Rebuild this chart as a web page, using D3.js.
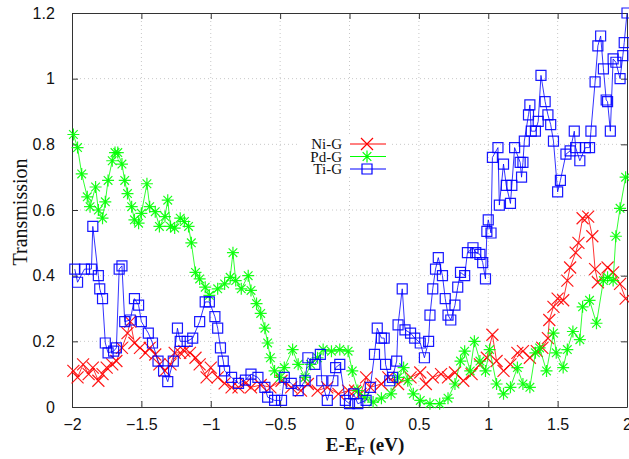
<!DOCTYPE html>
<html>
<head>
<meta charset="utf-8">
<script src="https://cdn.jsdelivr.net/npm/d3@7"></script>
<style>
  body { margin: 0; background: #fff; }
</style>
</head>
<body>
<div id="chart"></div>
<script>
// Ni-G (red crosses)
const niE = [-1.99,-1.96,-1.92,-1.88,-1.85,-1.81,-1.78,-1.75,-1.71,-1.68,-1.64,-1.60,-1.58,-1.55,-1.51,-1.47,-1.44,-1.40,-1.37,-1.33,-1.29,-1.26,-1.22,-1.19,-1.15,-1.11,-1.08,-1.03,-1.00,-0.95,-0.90,-0.85,-0.80,-0.75,-0.71,-0.64,-0.57,-0.49,-0.42,-0.35,-0.30,-0.23,-0.16,-0.08,-0.01,0.04,0.08,0.12,0.15,0.23,0.28,0.35,0.44,0.51,0.55,0.60,0.66,0.71,0.76,0.82,0.88,0.94,0.99,1.03,1.06,1.11,1.16,1.21,1.25,1.30,1.35,1.39,1.43,1.44,1.47,1.50,1.54,1.57,1.59,1.63,1.65,1.68,1.72,1.75,1.77,1.79,1.86,1.90,1.95,1.99];
const niT = [0.11,0.09,0.13,0.10,0.12,0.08,0.10,0.12,0.13,0.14,0.18,0.225,0.26,0.195,0.18,0.165,0.18,0.16,0.13,0.11,0.13,0.165,0.165,0.17,0.165,0.15,0.13,0.09,0.12,0.09,0.072,0.06,0.06,0.072,0.06,0.067,0.06,0.08,0.06,0.05,0.07,0.05,0.06,0.04,0.05,0.05,0.04,0.09,0.06,0.07,0.09,0.07,0.09,0.105,0.07,0.09,0.10,0.09,0.105,0.08,0.10,0.13,0.15,0.22,0.14,0.11,0.13,0.165,0.17,0.15,0.17,0.18,0.21,0.265,0.305,0.33,0.325,0.385,0.425,0.47,0.50,0.575,0.58,0.52,0.42,0.38,0.425,0.41,0.375,0.33];

// Pd-G (green asterisks)
const pdE = [-1.99,-1.96,-1.93,-1.89,-1.87,-1.83,-1.81,-1.78,-1.76,-1.74,-1.71,-1.69,-1.67,-1.64,-1.62,-1.60,-1.57,-1.55,-1.52,-1.50,-1.46,-1.44,-1.40,-1.37,-1.33,-1.31,-1.29,-1.26,-1.22,-1.19,-1.16,-1.14,-1.11,-1.08,-1.04,-1.01,-0.95,-0.90,-0.86,-0.84,-0.82,-0.78,-0.73,-0.71,-0.67,-0.64,-0.61,-0.59,-0.57,-0.54,-0.50,-0.47,-0.41,-0.37,-0.32,-0.28,-0.23,-0.19,-0.13,-0.07,-0.01,0.02,0.06,0.11,0.17,0.23,0.30,0.35,0.39,0.42,0.46,0.51,0.58,0.65,0.71,0.76,0.80,0.83,0.87,0.90,0.94,0.98,1.01,1.06,1.11,1.16,1.21,1.25,1.30,1.34,1.37,1.42,1.47,1.49,1.54,1.57,1.61,1.66,1.68,1.73,1.78,1.83,1.86,1.90,1.92,1.95,1.99];
const pdT = [0.83,0.79,0.71,0.64,0.61,0.67,0.60,0.575,0.625,0.69,0.75,0.775,0.775,0.74,0.69,0.65,0.61,0.57,0.56,0.59,0.68,0.61,0.595,0.55,0.58,0.63,0.55,0.545,0.575,0.565,0.55,0.50,0.41,0.39,0.365,0.34,0.36,0.375,0.395,0.47,0.385,0.36,0.40,0.355,0.315,0.285,0.24,0.195,0.15,0.11,0.09,0.12,0.175,0.13,0.09,0.13,0.15,0.175,0.17,0.175,0.17,0.11,0.05,0.03,0.015,0.027,0.04,0.09,0.12,0.08,0.04,0.02,0.01,0.01,0.027,0.07,0.14,0.17,0.11,0.20,0.14,0.11,0.175,0.07,0.04,0.06,0.12,0.07,0.06,0.165,0.18,0.11,0.225,0.165,0.12,0.175,0.23,0.205,0.305,0.325,0.255,0.385,0.395,0.385,0.52,0.605,0.70];

// Ti-G (blue squares)
const tiE = [-1.98,-1.96,-1.91,-1.86,-1.85,-1.81,-1.80,-1.78,-1.76,-1.74,-1.70,-1.68,-1.66,-1.64,-1.62,-1.58,-1.55,-1.52,-1.50,-1.45,-1.42,-1.38,-1.34,-1.31,-1.27,-1.24,-1.22,-1.17,-1.13,-1.08,-1.04,-1.01,-0.97,-0.95,-0.93,-0.91,-0.90,-0.85,-0.80,-0.75,-0.71,-0.66,-0.61,-0.59,-0.54,-0.49,-0.47,-0.42,-0.37,-0.32,-0.30,-0.25,-0.21,-0.20,-0.16,-0.12,-0.10,-0.07,-0.03,0.00,0.03,0.06,0.12,0.15,0.18,0.20,0.23,0.25,0.26,0.29,0.31,0.34,0.35,0.38,0.40,0.44,0.47,0.51,0.54,0.57,0.58,0.60,0.62,0.64,0.67,0.69,0.71,0.73,0.76,0.78,0.80,0.83,0.85,0.89,0.91,0.94,0.96,0.98,0.99,1.00,1.02,1.03,1.07,1.08,1.11,1.13,1.16,1.17,1.19,1.23,1.24,1.25,1.26,1.29,1.30,1.31,1.34,1.36,1.38,1.41,1.43,1.45,1.47,1.50,1.52,1.56,1.59,1.62,1.63,1.66,1.70,1.73,1.74,1.77,1.79,1.81,1.83,1.85,1.86,1.88,1.90,1.92,1.95,1.97,1.98,2.00];
const tiT = [0.42,0.38,0.42,0.42,0.55,0.40,0.36,0.33,0.195,0.165,0.17,0.18,0.42,0.43,0.26,0.265,0.33,0.31,0.26,0.225,0.195,0.14,0.11,0.077,0.14,0.24,0.20,0.20,0.21,0.26,0.32,0.32,0.275,0.24,0.18,0.14,0.11,0.09,0.072,0.082,0.10,0.09,0.06,0.03,0.02,0.02,0.09,0.072,0.05,0.08,0.15,0.13,0.16,0.08,0.02,0.08,0.12,0.13,0.02,0.01,0.04,0.01,0.02,0.06,0.16,0.24,0.21,0.21,0.13,0.08,0.09,0.14,0.25,0.36,0.235,0.225,0.21,0.195,0.15,0.20,0.28,0.36,0.42,0.455,0.40,0.33,0.28,0.265,0.31,0.365,0.41,0.40,0.47,0.485,0.47,0.465,0.44,0.39,0.535,0.57,0.53,0.76,0.79,0.615,0.74,0.675,0.62,0.675,0.79,0.745,0.70,0.745,0.81,0.89,0.92,0.84,0.84,0.87,1.01,0.93,0.89,0.86,0.81,0.655,0.69,0.77,0.78,0.84,0.79,0.75,0.79,0.79,0.84,0.99,1.10,1.13,1.03,0.935,0.93,0.84,1.06,1.05,1.00,1.07,1.11,1.20];

const xTicks = [-2, -1.5, -1, -0.5, 0, 0.5, 1, 1.5, 2];
const yTicks = [0, 0.2, 0.4, 0.6, 0.8, 1, 1.2];
const seriesNames = ["Ni-G", "Pd-G", "Ti-G"];
const seriesColors = ["#ff0000", "#00ff00", "#0000ff"];
const seriesMarkers = ["cross", "star", "square"];

function markerPath(type, s) {
  if (type === "cross") return `M${-s},${-s}L${s},${s}M${-s},${s}L${s},${-s}`;
  if (type === "star") {
    const d = s * 0.72;
    return `M${-s},0L${s},0M0,${-s}L0,${s}M${-d},${-d}L${d},${d}M${-d},${d}L${d},${-d}`;
  }
  return `M${-s},${-s}H${s}V${s}H${-s}Z`;
}

function draw() {
  const width = 629, height = 459;
  const plot = { left: 72, right: 627, top: 13, bottom: 407 };

  const svg = d3.select("#chart").append("svg")
    .attr("width", width).attr("height", height)
    .style("display", "block");

  const xScale = d3.scaleLinear().domain([-2, 2]).range([plot.left, plot.right]);
  const yScale = d3.scaleLinear().domain([0, 1.2]).range([plot.bottom, plot.top]);

  // dotted grid
  const grid = svg.append("g").attr("stroke", "#c8c8c8").attr("stroke-dasharray", "1,3");
  grid.selectAll(".gx").data(xTicks.slice(1, -1)).enter().append("line")
    .attr("x1", d => xScale(d)).attr("x2", d => xScale(d))
    .attr("y1", plot.top).attr("y2", plot.bottom);
  grid.selectAll(".gy").data(yTicks.slice(1, -1)).enter().append("line")
    .attr("x1", plot.left).attr("x2", plot.right)
    .attr("y1", d => yScale(d)).attr("y2", d => yScale(d));

  // legend background hides the grid under it
  svg.append("rect").attr("x", 300).attr("y", 136).attr("width", 90).attr("height", 40).attr("fill", "#fff");

  // axes with inward ticks on all four sides
  const font = "'Liberation Sans', Arial, sans-serif";
  svg.append("g").attr("transform", `translate(0,${plot.bottom})`)
    .call(d3.axisBottom(xScale).tickValues(xTicks).tickSizeInner(-6).tickSizeOuter(0).tickPadding(12).tickFormat(d3.format("")));
  const leftAxis = svg.append("g").attr("transform", `translate(${plot.left},0)`)
    .call(d3.axisLeft(yScale).tickValues(yTicks).tickSizeInner(-6).tickSizeOuter(0).tickPadding(14).tickFormat(d3.format("")));
  svg.append("g").attr("transform", `translate(0,${plot.top})`)
    .call(d3.axisTop(xScale).tickValues(xTicks).tickSizeInner(-6).tickSizeOuter(0).tickFormat(""));
  svg.append("g").attr("transform", `translate(${plot.right},0)`)
    .call(d3.axisRight(yScale).tickValues(yTicks).tickSizeInner(-6).tickSizeOuter(0).tickFormat(""));
  svg.selectAll(".domain").attr("stroke", "#333");
  svg.selectAll(".tick line").attr("stroke", "#333");
  svg.selectAll(".tick text").style("font-family", font).style("font-size", "16px").attr("fill", "#111");
  leftAxis.selectAll(".tick text").attr("dx", "-0.2em");

  // series
  const series = [
    { name: seriesNames[0], e: niE, t: niT, color: seriesColors[0], marker: seriesMarkers[0], size: 6 },
    { name: seriesNames[1], e: pdE, t: pdT, color: seriesColors[1], marker: seriesMarkers[1], size: 6 },
    { name: seriesNames[2], e: tiE, t: tiT, color: seriesColors[2], marker: seriesMarkers[2], size: 5 }
  ];

  const line = d3.line().x(d => xScale(d[0])).y(d => yScale(d[1]));
  const plotArea = svg.append("g");

  series.forEach(s => {
    const pts = s.e.map((e, i) => [e, s.t[i]]);
    const g = plotArea.append("g");
    g.append("path").datum(pts).attr("d", line)
      .attr("fill", "none").attr("stroke", s.color).attr("stroke-width", 1).attr("stroke-opacity", 0.8);
    g.selectAll("path.m").data(pts).enter().append("path").attr("class", "m")
      .attr("transform", d => `translate(${xScale(d[0])},${yScale(d[1])})`)
      .attr("d", markerPath(s.marker, s.size))
      .attr("fill", "none").attr("stroke", s.color).attr("stroke-width", 1.2).attr("stroke-opacity", 0.9);
  });

  // legend
  const legend = svg.append("g");
  series.forEach((s, i) => {
    const y = 144 + i * 12.5;
    legend.append("text").attr("x", 342).attr("y", y + 5).attr("text-anchor", "end")
      .style("font-family", "'Liberation Serif', 'Times New Roman', serif").style("font-size", "15px")
      .attr("fill", "#111").text(s.name);
    legend.append("line").attr("x1", 350).attr("x2", 386).attr("y1", y).attr("y2", y)
      .attr("stroke", s.color).attr("stroke-width", 1);
    legend.append("path").attr("transform", `translate(367,${y})`)
      .attr("d", markerPath(s.marker, s.size)).attr("fill", "none").attr("stroke", s.color).attr("stroke-width", 1.2);
  });

  // axis titles
  svg.append("text")
    .attr("transform", `translate(27,${(plot.top + plot.bottom) / 2 + 2}) rotate(-90)`)
    .attr("text-anchor", "middle")
    .style("font-family", "'Liberation Serif', 'Times New Roman', serif").style("font-size", "20px")
    .attr("fill", "#111").text("Transmission");

  const xt = svg.append("text").attr("x", 365).attr("y", 451).attr("text-anchor", "middle")
    .style("font-family", "'Liberation Serif', 'Times New Roman', serif").style("font-size", "19px")
    .style("font-weight", "bold").attr("fill", "#111");
  xt.append("tspan").text("E-E");
  xt.append("tspan").attr("dy", 4).style("font-size", "12px").text("F");
  xt.append("tspan").attr("dy", -4).text(" (eV)");
}

draw();
</script>
</body>
</html>
